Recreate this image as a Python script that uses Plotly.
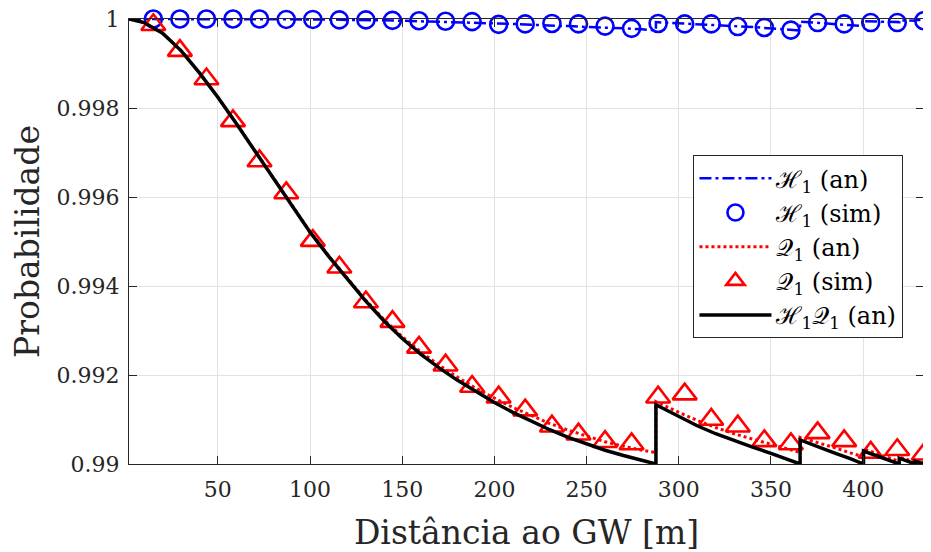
import plotly.graph_objects as go

# ---------------- data ----------------
# simulation distances [m]
x_sim = [15.0, 29.4, 43.8, 58.2, 72.6, 87.1, 101.5, 115.9, 130.3, 144.7,
         159.1, 173.5, 187.9, 202.3, 216.7, 231.2, 245.6, 260.0, 274.4, 288.8,
         303.2, 317.6, 332.0, 346.4, 360.8, 375.3, 389.7, 404.1, 418.5, 432.9]

h1_sim = [1.00000, 1.00000, 1.00000, 1.00000, 1.00000, 0.99999, 0.99999, 0.99998, 0.99998, 0.99997,
          0.99996, 0.99995, 0.99994, 0.99988, 0.99989, 0.99990, 0.99989, 0.99984, 0.99979, 0.99990,
          0.99989, 0.99989, 0.99983, 0.99981, 0.99975, 0.99992, 0.99989, 0.99992, 0.99992, 0.99996]

q1_sim = [0.99987, 0.99929, 0.99865, 0.99771, 0.99681, 0.99609, 0.99502, 0.99442, 0.99364, 0.99320,
          0.99262, 0.99222, 0.99174, 0.99150, 0.99121, 0.99085, 0.99067, 0.99050, 0.99045, 0.99150,
          0.99157, 0.99100, 0.99085, 0.99052, 0.99045, 0.99070, 0.99052, 0.99026, 0.99032, 0.99022]

# analytic curves (distance grid; repeated distances are the jumps)
x_an = [1.8, 10, 20, 30, 40, 50, 60, 70, 80, 90,
        100, 110, 120, 130, 140, 150, 160, 170, 180, 190,
        200, 210, 220, 230, 240, 250, 260, 270, 280, 287.6,
        287.6, 300, 310, 320, 330, 340, 350, 358, 365.8,
        365.8, 375, 385, 393, 400.2,
        400.2, 410, 419.6,
        419.6, 428.2,
        428.2, 433.0]

h1_an = [1.00000, 1.00000, 1.00000, 1.00000, 1.00000, 1.00000, 1.00000, 1.00000, 0.99999, 0.99999,
         0.99999, 0.99999, 0.99998, 0.99998, 0.99997, 0.99996, 0.99995, 0.99994, 0.99993, 0.99992,
         0.99990, 0.99989, 0.99987, 0.99986, 0.99984, 0.99982, 0.99981, 0.99979, 0.99977, 0.99974,
         0.99993, 0.99990, 0.99988, 0.99986, 0.99984, 0.99982, 0.99979, 0.99977, 0.99974,
         0.99994, 0.99991, 0.99988, 0.99986, 0.99984,
         0.99995, 0.99994, 0.99993,
         0.99997, 0.99996,
         0.99998, 0.99998]

q1_an = [1.00000, 0.99992, 0.99968, 0.99929, 0.99879, 0.99824, 0.99765, 0.99704, 0.99643, 0.99581,
         0.99522, 0.99468, 0.99418, 0.99369, 0.99325, 0.99286, 0.99252, 0.99222, 0.99195, 0.99170,
         0.99148, 0.99127, 0.99109, 0.99091, 0.99076, 0.99063, 0.99050, 0.99040, 0.99031, 0.99026,
         0.99140, 0.99116, 0.99098, 0.99082, 0.99068, 0.99056, 0.99045, 0.99035, 0.99026,
         0.99060, 0.99049, 0.99036, 0.99025, 0.99016,
         0.99034, 0.99020, 0.99006,
         0.99016, 0.99004,
         0.99008, 0.99002]

hq_an = [1.00000, 0.99992, 0.99968, 0.99929, 0.99879, 0.99824, 0.99765, 0.99704, 0.99642, 0.99580,
         0.99521, 0.99467, 0.99416, 0.99367, 0.99322, 0.99282, 0.99247, 0.99216, 0.99188, 0.99162,
         0.99138, 0.99116, 0.99096, 0.99077, 0.99060, 0.99045, 0.99031, 0.99019, 0.99008, 0.99000,
         0.99133, 0.99106, 0.99086, 0.99068, 0.99052, 0.99038, 0.99024, 0.99012, 0.99000,
         0.99054, 0.99039, 0.99024, 0.99012, 0.99000,
         0.99029, 0.99014, 0.99000,
         0.99013, 0.99000,
         0.99006, 0.99000]

x_ticks = [50, 100, 150, 200, 250, 300, 350, 400]
y_ticks = [0.99, 0.992, 0.994, 0.996, 0.998, 1.0]
y_tick_text = ["0.99", "0.992", "0.994", "0.996", "0.998", "1"]

names = ["ℋ<sub>1</sub> (an)", "ℋ<sub>1</sub> (sim)", "𝒬<sub>1</sub> (an)",
         "𝒬<sub>1</sub> (sim)", "ℋ<sub>1</sub>𝒬<sub>1</sub> (an)"]

# ---------------- figure ----------------
FONT = "DejaVu Serif"

fig = go.Figure()
fig.add_trace(go.Scatter(x=x_an, y=h1_an, mode="lines", name=names[0],
                         line=dict(color="#0000ff", width=2.5, dash="12px,4px,3px,4px"),
                         cliponaxis=False))
fig.add_trace(go.Scatter(x=x_sim, y=h1_sim, mode="markers", name=names[1],
                         marker=dict(symbol="circle-open", size=17, color="#0000ff",
                                     line=dict(width=2.6, color="#0000ff")),
                         cliponaxis=False))
fig.add_trace(go.Scatter(x=x_an, y=q1_an, mode="lines", name=names[2],
                         line=dict(color="#ff0000", width=3, dash="dot"),
                         cliponaxis=False))
fig.add_trace(go.Scatter(x=x_sim, y=q1_sim, mode="markers", name=names[3],
                         marker=dict(symbol="triangle-up-open", size=21, color="#ff0000",
                                     line=dict(width=2.6, color="#ff0000")),
                         cliponaxis=False))
fig.add_trace(go.Scatter(x=x_an, y=hq_an, mode="lines", name=names[4],
                         line=dict(color="#000000", width=3.5),
                         cliponaxis=False))

axis_common = dict(showline=True, linecolor="#262626", linewidth=1, mirror="ticks",
                   ticks="inside", ticklen=8, tickcolor="#262626",
                   showgrid=True, gridcolor="#e3e3e3", gridwidth=1, zeroline=False,
                   ticklabeloverflow="allow", automargin=False,
                   tickfont=dict(family=FONT, size=22, color="#262626"))

fig.update_xaxes(range=[1.8, 433.0], tickvals=x_ticks, ticklabelstandoff=6,
                 title=dict(text="Distância ao GW [m]", font=dict(family=FONT, size=33, color="#262626"),
                            standoff=19),
                 **axis_common)
fig.update_yaxes(range=[0.99, 1.0], tickvals=y_ticks, ticktext=y_tick_text,
                 ticklabelstandoff=4,
                 title=dict(text="Probabilidade", font=dict(family=FONT, size=33, color="#262626"),
                            standoff=12),
                 **axis_common)

# page body has an 8 px margin: figure is 923x544 and margins are shifted accordingly
fig.update_layout(
    width=923, height=544,
    margin=dict(l=121, r=7, t=11, b=88, autoexpand=False),
    paper_bgcolor="white", plot_bgcolor="white",
    showlegend=True,
    legend=dict(x=0.71, y=0.694, xanchor="left", yanchor="top",
                bgcolor="white", bordercolor="#262626", borderwidth=1,
                font=dict(family=FONT, size=24, color="#000000"),
                itemwidth=72, tracegroupgap=0),
)

fig.write_html("out.html")
